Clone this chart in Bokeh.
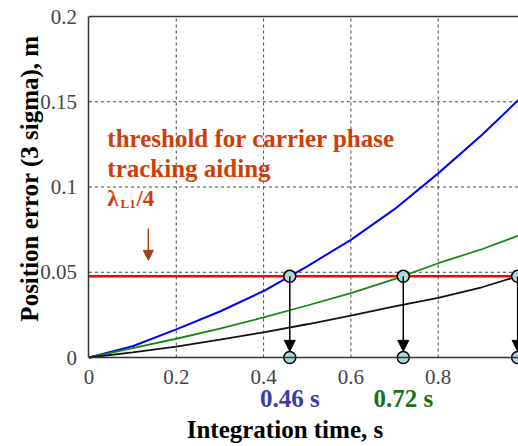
import math
from bokeh.plotting import figure
from bokeh.models import (Range1d, Label, Arrow, NormalHead, FixedTicker,
                          ColumnDataSource)
from bokeh.embed import file_html
from bokeh.resources import INLINE

# ---- data ----
time_s = [0.0, 0.1, 0.2, 0.3, 0.4, 0.5, 0.6, 0.7, 0.8, 0.9, 1.0]
err_blue = [0.0, 0.0066, 0.0165, 0.027, 0.039, 0.0535, 0.069, 0.087, 0.108, 0.1305, 0.155]
err_green = [0.0, 0.0055, 0.011, 0.017, 0.0235, 0.0305, 0.0377, 0.046, 0.0553, 0.0635, 0.073]
err_black = [0.0, 0.003, 0.0064, 0.0105, 0.0148, 0.0195, 0.0246, 0.030, 0.035, 0.0412, 0.049]
threshold = 0.0476          # lambda_L1 / 4, m
cross_times = [0.46, 0.72, 0.982]
cross_labels = ["0.46 s", "0.72 s"]
cross_colors = ["#3b3bab", "#1a6f1a"]
x_ticks = [0, 0.2, 0.4, 0.6, 0.8]
x_tick_labels = ["0", "0.2", "0.4", "0.6", "0.8"]
y_ticks = [0, 0.05, 0.1, 0.15, 0.2]
y_tick_labels = ["0", "0.05", "0.1", "0.15", "0.2"]

FONT = "serif"
ORANGE = "#cf3e08"
X_END = 0.984

p = figure(width=518, height=446, output_backend="svg", toolbar_location=None,
           x_range=Range1d(-0.2027, X_END), y_range=Range1d(-0.0522, 0.2094),
           min_border_left=0, min_border_right=0, min_border_top=0,
           min_border_bottom=0)
p.outline_line_color = None
p.background_fill_color = "white"
p.border_fill_color = "white"
p.xgrid.visible = False
p.ygrid.visible = False

# axes drawn at the data origin
for ax in (p.xaxis, p.yaxis):
    ax.fixed_location = 0
    ax.major_tick_line_color = None
    ax.minor_tick_line_color = None
    ax.axis_line_color = "#333333"
    ax.axis_line_width = 1.5
    ax.major_label_text_font = FONT
    ax.major_label_text_font_size = "21px"
    ax.major_label_text_color = "#444444"
    ax.major_label_standoff = 6
p.xaxis.bounds = (x_ticks[0], X_END)
p.yaxis.bounds = (y_ticks[0], y_ticks[-1])
p.xaxis.ticker = FixedTicker(ticks=x_ticks)
p.xaxis.major_label_overrides = dict(zip(x_ticks, x_tick_labels))
p.yaxis.ticker = FixedTicker(ticks=y_ticks)
p.yaxis.major_label_overrides = dict(zip(y_ticks, y_tick_labels))

# grid lines (dotted), limited to the data box
vx = x_ticks[1:]
p.segment(x0=vx, y0=[y_ticks[0]] * len(vx), x1=vx, y1=[y_ticks[-1]] * len(vx),
          line_color="#444444", line_dash="3 3", line_width=1)
hy = y_ticks[1:-1]
p.segment(x0=[x_ticks[0]] * len(hy), y0=hy, x1=[X_END] * len(hy), y1=hy,
          line_color="#444444", line_dash="3 3", line_width=1)
# top border
p.segment(x0=[x_ticks[0]], y0=[y_ticks[-1]], x1=[X_END], y1=[y_ticks[-1]],
          line_color="#333333", line_width=1.5)

# threshold
p.line(x=[x_ticks[0], X_END], y=[threshold, threshold], line_color="#ff0000", line_width=2.5)

# curves
src = ColumnDataSource(dict(t=time_s, b=err_blue, g=err_green, k=err_black))
p.line("t", "b", source=src, line_color="#0000ff", line_width=2)
p.line("t", "g", source=src, line_color="#138a13", line_width=1.8)
p.line("t", "k", source=src, line_color="#111111", line_width=1.8)

# arrows from threshold crossing down to time axis
for t in cross_times:
    p.add_layout(Arrow(end=NormalHead(size=11, fill_color="black", line_color="black"),
                       x_start=t, y_start=threshold, x_end=t, y_end=0.0036,
                       line_color="black", line_width=1.5))
pts = ColumnDataSource(dict(x=cross_times * 2,
                            y=[threshold] * len(cross_times) + [0.0] * len(cross_times)))
p.scatter("x", "y", source=pts, size=12, fill_color="#aed9da", line_color="black",
          line_width=1.5)

# labels for crossing times
for t, lab, col in zip(cross_times, cross_labels, cross_colors):
    p.add_layout(Label(x=t, y=-0.0241, text=lab, text_font=FONT, text_font_style="bold",
                       text_font_size="25px", text_color=col, text_align="center",
                       text_baseline="alphabetic"))

# axis titles
p.add_layout(Label(x=0.449, y=-0.0425, text="Integration time, s", text_font=FONT,
                   text_font_style="bold", text_font_size="25px", text_color="black",
                   text_align="center", text_baseline="alphabetic"))
p.add_layout(Label(x=-0.1363, y=0.105, text="Position error (3 sigma), m", text_font=FONT,
                   text_font_style="bold", text_font_size="25px", text_color="black",
                   text_align="center", text_baseline="alphabetic", angle=math.pi / 2))

# threshold annotation
for txt, y in [("threshold for carrier phase", 0.1282), ("tracking aiding", 0.1111)]:
    p.add_layout(Label(x=0.042, y=y, text=txt, text_font=FONT,
                       text_font_style="bold", text_font_size="25px", text_color=ORANGE,
                       text_baseline="alphabetic"))
p.add_layout(Label(x=0.0416, y=0.0931, text="λ", text_font=FONT,
                   text_font_style="bold", text_font_size="23px", text_color=ORANGE,
                   text_baseline="alphabetic"))
p.add_layout(Label(x=0.0722, y=0.0904, text="L1", text_font=FONT,
                   text_font_style="bold", text_font_size="13px", text_color=ORANGE,
                   text_baseline="alphabetic"))
p.add_layout(Label(x=0.1088, y=0.0931, text="/4", text_font=FONT,
                   text_font_style="bold", text_font_size="23px", text_color=ORANGE,
                   text_baseline="alphabetic"))
p.add_layout(Arrow(end=NormalHead(size=10, fill_color="#a8400f", line_color="#a8400f"),
                   x_start=0.136, y_start=0.0757, x_end=0.136, y_end=0.057,
                   line_color="#a8400f", line_width=1.5))

open("out.html", "w").write(file_html(p, INLINE))
